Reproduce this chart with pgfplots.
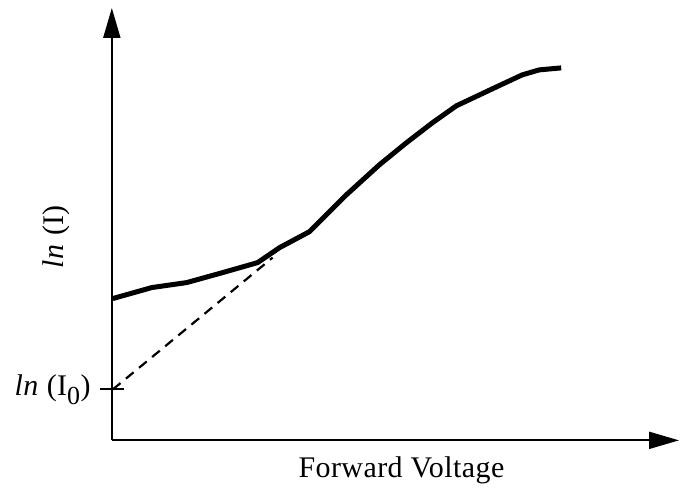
\documentclass[border=0pt]{standalone}
\usepackage{fontspec}
\setmainfont{Liberation Serif}
\usepackage{pgfplots}
\pgfplotsset{compat=1.18}
\usetikzlibrary{arrows.meta}
\newcommand{\lblfont}{\fontsize{30bp}{36bp}\selectfont\addfontfeature{LetterSpace=1.5}}
\begin{document}
\begin{tikzpicture}
\begin{axis}[
  x=1bp, y=1bp,
  xmin=112, xmax=680, ymin=48, ymax=481,
  scale only axis,
  axis lines=left,
  axis line style={line width=2bp, -{Triangle[length=30bp,width=17bp]}},
  clip=false,
  xtick=\empty,
  ytick={99},
  yticklabels={},
  major tick length=24bp,
  tick align=center,
  tick style={line width=2bp, black},
]
\addplot[black, line width=5bp, line join=round] coordinates {
(113,190) (152,201) (187,206) (223,216) (258,226) (280,241) (310,257)
(347,294) (380,324) (407,346) (433,366) (457,383) (493,400) (523,414)
(540,419) (562,421)
};
\addplot[black, line width=2.2bp, dash pattern=on 10bp off 7bp] coordinates {
(113,99) (273,231)
};
\path (axis cs:0,0) rectangle (axis cs:680,489);
\node[anchor=east, inner sep=0pt, font=\lblfont] at (axis cs:91,99) {\textit{ln} (I\textsubscript{\fontsize{26bp}{30bp}\selectfont 0})};
\node[rotate=90, inner sep=0pt, font=\lblfont] at (axis cs:56,252) {\textit{ln} (I)};
\node[anchor=base, inner sep=0pt, font=\lblfont] at (axis cs:402,11) {Forward Voltage};
\end{axis}
\end{tikzpicture}
\end{document}
